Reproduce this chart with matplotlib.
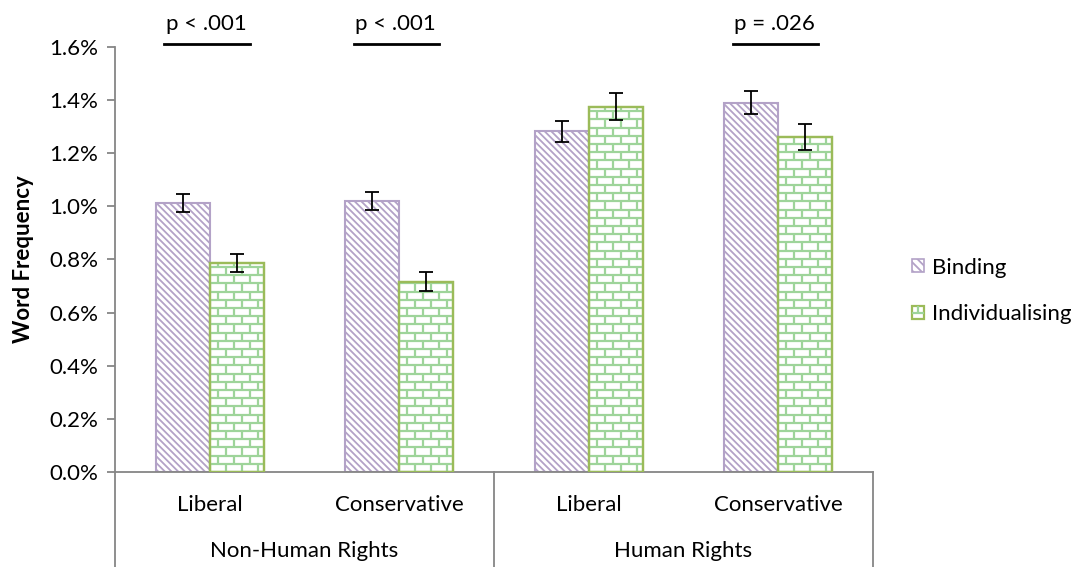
import numpy as np
import matplotlib
matplotlib.use("Agg")
import matplotlib.pyplot as plt
from matplotlib.patches import Patch, Rectangle
from matplotlib.collections import LineCollection
from matplotlib.legend_handler import HandlerBase
from matplotlib.ticker import FuncFormatter
import matplotlib.transforms as mtransforms

plt.rcParams['font.family'] = ['Lato', 'DejaVu Sans']
plt.rcParams['hatch.linewidth'] = 1.3

# word frequency (%) by rights type x ideology
groups = ["Non-Human Rights", "Human Rights"]
ideology = ["Liberal", "Conservative", "Liberal", "Conservative"]
binding = [1.012, 1.020, 1.281, 1.390]
binding_err = [0.034, 0.035, 0.038, 0.042]
individ = [0.786, 0.716, 1.374, 1.260]
individ_err = [0.035, 0.035, 0.050, 0.049]
sig_labels = ["p < .001", "p < .001", "", "p = .026"]

PURPLE = "#B3A2C7"
GREEN = "#9BBB59"
BRICK = "#9ED49A"
AXIS_GRAY = "#868686"
FS = 16

fig = plt.figure(figsize=(10.82, 5.67), dpi=100)
ax = fig.add_axes([115 / 1082, 1 - 472 / 567, 758 / 1082, (472 - 46.7) / 567])

x = np.arange(len(ideology))
w = 0.285
ax.set_xlim(-0.5, len(ideology) - 0.5)
ax.set_ylim(0, 1.6)

ax.bar(x - w / 2, binding, w, color="white", edgecolor=PURPLE, linewidth=1.5,
       hatch="\\\\\\\\\\", zorder=2)
ind_bars = ax.bar(x + w / 2, individ, w, color="white", edgecolor=GREEN,
                  linewidth=1.6, zorder=3)

# brick texture for the individualising bars, sized in pixels
px_x = ax.bbox.width / (ax.get_xlim()[1] - ax.get_xlim()[0])
px_y = ax.bbox.height / (ax.get_ylim()[1] - ax.get_ylim()[0])
row_h = 8.2 / px_y
brick_w = 16.0 / px_x
for bar in ind_bars:
    x0, bw, h = bar.get_x(), bar.get_width(), bar.get_height()
    segs = []
    rows = int(np.ceil(h / row_h)) + 1
    for r in range(rows):
        yb = r * row_h
        segs.append([(x0, yb), (x0 + bw, yb)])
        off = (brick_w / 2) if r % 2 else 0.0
        xv = x0 + off
        while xv <= x0 + bw:
            segs.append([(xv, yb), (xv, yb + row_h)])
            xv += brick_w
    lc = LineCollection(segs, colors=BRICK, linewidths=1.6, zorder=3.2)
    ax.add_collection(lc)
    lc.set_clip_path(bar)
    # redraw the outline on top of the bricks
    ax.add_patch(Rectangle((x0, 0), bw, h, facecolor="none", edgecolor=GREEN,
                           linewidth=1.6, zorder=3.4))

ax.errorbar(x - w / 2, binding, yerr=binding_err, fmt="none", ecolor="black",
            elinewidth=1.3, capsize=5, capthick=1.3, zorder=4)
ax.errorbar(x + w / 2, individ, yerr=individ_err, fmt="none", ecolor="black",
            elinewidth=1.3, capsize=5, capthick=1.3, zorder=4)

# axes styling
for s in ["top", "right"]:
    ax.spines[s].set_visible(False)
for s in ["left", "bottom"]:
    ax.spines[s].set_color(AXIS_GRAY)
    ax.spines[s].set_linewidth(1.3)
ax.set_yticks(np.arange(0, 1.61, 0.2))
ax.yaxis.set_major_formatter(FuncFormatter(lambda v, p: f"{v:.1f}%"))
ax.tick_params(axis="y", length=6, width=1.3, color=AXIS_GRAY, labelsize=FS,
               pad=6)
ax.set_xticks([])
ax.set_ylabel("Word Frequency", fontsize=FS, fontweight="bold", labelpad=11)

# two-level category axis
trans = mtransforms.blended_transform_factory(ax.transData, ax.transAxes)
for xi, lab in zip(x, ideology):
    ax.text(xi, -0.078, lab, transform=trans, ha="center", va="center",
            fontsize=FS)
for gi, g in enumerate(groups):
    ax.text(gi * 2 + 0.5, -0.185, g, transform=trans, ha="center",
            va="center", fontsize=FS)
for xb in [-0.5, 1.5, 3.5]:
    ax.plot([xb, xb], [0, -0.23], transform=trans, color=AXIS_GRAY, lw=1.3,
            clip_on=False)

# significance markers
for xi, lab in zip(x, sig_labels):
    if not lab:
        continue
    ax.plot([xi - 0.24, xi + 0.21], [1.612, 1.612], color="black", lw=2,
            clip_on=False)
    ax.text(xi - 0.02, 1.685, lab, ha="center", va="center", fontsize=FS,
            clip_on=False)


class BrickHandler(HandlerBase):
    def create_artists(self, legend, orig_handle, xdescent, ydescent, width,
                       height, fontsize, trans):
        x0, y0 = -xdescent, -ydescent
        rect = Rectangle((x0, y0), width, height, facecolor="white",
                         edgecolor=GREEN, lw=1.6, transform=trans)
        ym = y0 + height * 0.45
        lines = LineCollection([[(x0, ym), (x0 + width, ym)],
                                [(x0 + width * 0.5, ym), (x0 + width * 0.5, y0 + height)]],
                               colors=BRICK, linewidths=1.6, transform=trans)
        return [rect, lines]


h_bind = Patch(facecolor="white", edgecolor=PURPLE, hatch="\\\\\\\\", lw=1.2)
h_ind = Patch(facecolor="white", edgecolor=GREEN)
fig.legend([h_bind, h_ind], ["Binding", "Individualising"],
           handler_map={h_ind: BrickHandler()},
           loc="center left", bbox_to_anchor=(912 / 1082, 1 - 291 / 567),
           borderpad=0, borderaxespad=0,
           frameon=False, fontsize=FS, handlelength=0.55, handleheight=0.55,
           handletextpad=0.35, labelspacing=1.2)

fig.savefig("out.png", dpi=100)
